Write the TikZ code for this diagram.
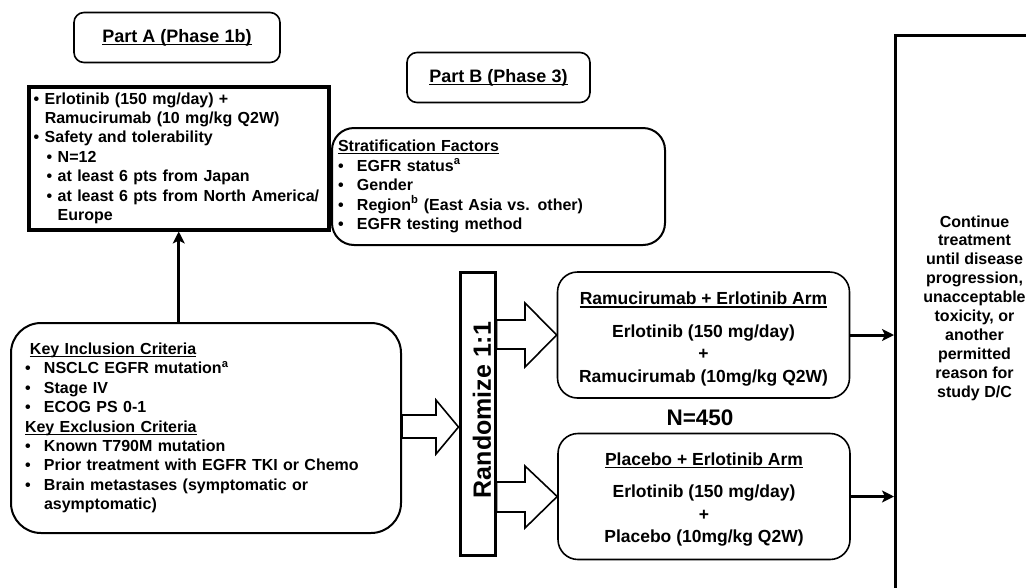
\documentclass[tikz,border=0pt]{standalone}
\usepackage{fontspec}
\setmainfont{Liberation Sans}
\usetikzlibrary{arrows.meta}
\newcommand\undl[1]{\leavevmode\setbox0\hbox{#1}\rlap{\rule[-2.6pt]{\wd0}{1.1pt}}\box0}
\newcommand\bul{\makebox[11pt][l]{\textbullet}}
\newcommand\bulx{\makebox[19pt][l]{\textbullet}}

\begin{document}
\begin{tikzpicture}[x=1pt,y=-1pt,
    font=\bfseries\fontsize{16}{19.4}\selectfont,
    titlebox/.style={draw,line width=1.6pt,rounded corners=10pt,minimum width=#1,
      minimum height=50pt,font=\bfseries\fontsize{18}{20}\selectfont},
    listbox/.style={draw,align=left,anchor=north west,inner ysep=0pt},
    armbox/.style={draw,line width=1.6pt,rounded corners=20pt,align=center,
      minimum width=292pt,minimum height=126pt,font=\bfseries\fontsize{17.5}{22.5}\selectfont},
    fatarrow/.style={draw,line width=1.6pt,fill=white,line join=miter},
    thickarrow/.style={line width=3pt,-{Stealth[length=12pt,width=12pt,inset=3pt]}},
  ]
  \useasboundingbox (0,0) rectangle (1026,587);

  % part A
  \node[titlebox=206pt] (partA) at (177,37.5) {\undl{Part A (Phase 1b)}};
  \node[listbox,line width=3.5pt,text width=290pt,inner xsep=5pt,
    minimum width=300pt,minimum height=143pt] (phaseA) at (27,85) {%
    \bul Erlotinib (150 mg/day) +\\
    \hspace*{11pt}Ramucirumab (10 mg/kg Q2W)\\
    \bul Safety and tolerability\\
    \hspace*{13pt}\bul N=12\\
    \hspace*{13pt}\bul at least 6 pts from Japan\\
    \hspace*{13pt}\bul at least 6 pts from North America/\\
    \hspace*{24pt}Europe};

  % part B
  \node[titlebox=183pt] (partB) at (498.5,77.5) {\undl{Part B (Phase 3)}};
  \node[listbox,line width=2pt,rounded corners=22pt,text width=321pt,inner xsep=6pt,
    minimum width=333pt,minimum height=117pt] (strat) at (331,127) {%
    \undl{Stratification Factors}\\
    \bulx EGFR status\textsuperscript{a}\\
    \bulx Gender\\
    \bulx Region\textsuperscript{b} (East Asia vs. other)\\
    \bulx EGFR testing method};

  \node[listbox,line width=2pt,rounded corners=30pt,text width=362pt,inner xsep=14pt,
    minimum width=390pt,minimum height=210pt] (incl) at (10,322) {%
    \hspace*{5pt}\undl{Key Inclusion Criteria}\\
    \bulx NSCLC EGFR mutation\textsuperscript{a}\\
    \bulx Stage IV\\
    \bulx ECOG PS 0-1\\
    \undl{Key Exclusion Criteria}\\
    \bulx Known T790M mutation\\
    \bulx Prior treatment with EGFR TKI or Chemo\\
    \bulx Brain metastases (symptomatic or\\
    \hspace*{19pt}asymptomatic)};

  \node[draw,line width=3pt,minimum width=35pt,minimum height=283pt] (rand) at (477.5,413.5) {};
  \node[rotate=90,font=\bfseries\fontsize{25}{28}\selectfont] (randtxt) at (482,410) {Randomize 1:1};

  \node[armbox] (armR) at (703.5,335) {%
    \rule{0pt}{21pt}\undl{Ramucirumab + Erlotinib Arm}\\[10pt]
    Erlotinib (150 mg/day)\\
    +\\
    Ramucirumab (10mg/kg Q2W)};
  \node[armbox] (armP) at (704,496.5) {%
    \rule{0pt}{19pt}\undl{Placebo + Erlotinib Arm}\\[10pt]
    Erlotinib (150 mg/day)\\
    +\\
    Placebo (10mg/kg Q2W)};
  \node[font=\bfseries\fontsize{22.5}{26}\selectfont] (ntot) at (700,418) {N=450};

  \node[draw,line width=3pt,anchor=north west,minimum width=200pt,minimum height=600pt] (cont) at (894,34) {};
  \node[align=center,font=\bfseries\fontsize{16}{18.9}\selectfont] (conttxt) at (974.5,308) {%
    Continue\\treatment\\until disease\\progression,\\unacceptable\\toxicity, or\\
    another\\permitted\\reason for\\study D/C};

  % connectors
  \draw[thickarrow] (incl.north -| phaseA.south) -- (phaseA.south);
  \draw[fatarrow] (incl.east |- 0,415) -- (436,415) -- (436,400) -- (rand.west |- 0,427)
    -- (436,454) -- (436,438) -- (incl.east |- 0,438) -- cycle;
  \draw[fatarrow] (rand.east |- 0,320) -- (525,320) -- (525,303) -- (armR.west)
    -- (525,367) -- (525,349) -- (rand.east |- 0,349) -- cycle;
  \draw[fatarrow] (rand.east |- 0,482) -- (525,482) -- (525,466) -- (armP.west)
    -- (525,528) -- (525,512) -- (rand.east |- 0,512) -- cycle;
  \draw[thickarrow] (armR.east) -- (armR.east -| cont.west);
  \draw[thickarrow] (armP.east) -- (armP.east -| cont.west);
\end{tikzpicture}
\end{document}
